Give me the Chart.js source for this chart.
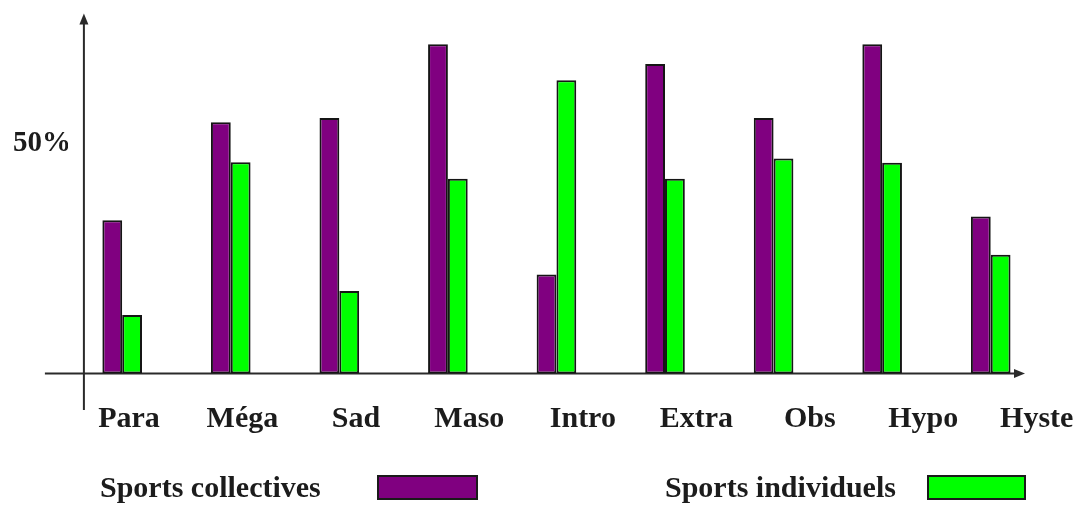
<!DOCTYPE html>
<html lang="fr">
<head>
<meta charset="utf-8">
<title>Sports collectives / Sports individuels</title>
<script src="https://cdn.jsdelivr.net/npm/chart.js@4/dist/chart.umd.min.js"></script>
<style>
  html, body { margin: 0; padding: 0; background: #ffffff; }
  #wrap { width: 1079px; height: 506px; }
</style>
</head>
<body>
<div id="wrap"><canvas id="chart" width="1079" height="506"></canvas></div>
<script>
// Profils de personnalité
const categories = ['Para', 'Méga', 'Sad', 'Maso', 'Intro', 'Extra', 'Obs', 'Hypo', 'Hyste'];

// Pourcentages par profil
const sportsCollectives = [33.3, 54.6, 55.5, 71.5, 21.5, 67.2, 55.5, 71.5, 34.1];
const sportsIndividuels = [12.7, 45.9, 17.9, 42.3, 63.7, 42.3, 46.7, 45.8, 25.8];

// Seule graduation affichée sur l'axe vertical
const yTickValues = [50];

const seriesNames = ['Sports collectives', 'Sports individuels'];
const seriesColors = ['#800080', '#00ff00'];

const FONT_FAMILY = '"Liberation Serif", "Times New Roman", serif';
const TEXT_COLOR = '#1c1c1c';
const AXIS_COLOR = '#2a2a2a';

// Axes fléchés dessinés sous les barres
const arrowAxes = {
  id: 'arrowAxes',
  beforeDatasetsDraw(chart) {
    const { ctx, chartArea } = chart;
    const y0 = chart.scales.y.getPixelForValue(0);
    const xAxis = chartArea.left + 16;
    const xEnd = chartArea.right - 20;
    const yTop = chartArea.top - 1;
    ctx.save();
    ctx.strokeStyle = AXIS_COLOR;
    ctx.fillStyle = AXIS_COLOR;
    ctx.lineWidth = 2;
    // axe horizontal
    ctx.beginPath();
    ctx.moveTo(chartArea.left - 23, y0);
    ctx.lineTo(xEnd - 6, y0);
    ctx.stroke();
    ctx.beginPath();
    ctx.moveTo(xEnd, y0);
    ctx.lineTo(xEnd - 11, y0 - 4.5);
    ctx.lineTo(xEnd - 11, y0 + 4.5);
    ctx.closePath();
    ctx.fill();
    // axe vertical
    ctx.beginPath();
    ctx.moveTo(xAxis, y0 + 36.5);
    ctx.lineTo(xAxis, yTop + 6);
    ctx.stroke();
    ctx.beginPath();
    ctx.moveTo(xAxis, yTop);
    ctx.lineTo(xAxis - 4.5, yTop + 11);
    ctx.lineTo(xAxis + 4.5, yTop + 11);
    ctx.closePath();
    ctx.fill();
    ctx.restore();
  }
};

// Légende : libellé suivi d'un rectangle de couleur
const textThenBoxLegend = {
  id: 'textThenBoxLegend',
  afterDraw(chart) {
    const { ctx } = chart;
    const items = [
      { textX: 100, boxX: 378, boxW: 99 },
      { textX: 665, boxX: 928, boxW: 97 }
    ];
    ctx.save();
    ctx.font = 'bold 30px ' + FONT_FAMILY;
    ctx.textBaseline = 'alphabetic';
    ctx.textAlign = 'left';
    chart.data.datasets.forEach((ds, i) => {
      const it = items[i];
      ctx.fillStyle = TEXT_COLOR;
      ctx.fillText(ds.label, it.textX, 497);
      ctx.fillStyle = ds.backgroundColor;
      ctx.fillRect(it.boxX, 476, it.boxW, 23);
      ctx.strokeStyle = '#1a1a1a';
      ctx.lineWidth = 2;
      ctx.strokeRect(it.boxX, 476, it.boxW, 23);
    });
    ctx.restore();
  }
};

const chart = new Chart(document.getElementById('chart'), {
  type: 'bar',
  data: {
    labels: categories,
    datasets: [
      {
        label: seriesNames[0],
        data: sportsCollectives,
        backgroundColor: seriesColors[0],
        borderColor: '#151515',
        borderWidth: 2,
        borderSkipped: false,
        xAxisID: 'x'
      },
      {
        label: seriesNames[1],
        data: sportsIndividuels,
        backgroundColor: seriesColors[1],
        borderColor: '#151515',
        borderWidth: 2,
        borderSkipped: false,
        xAxisID: 'x'
      }
    ]
  },
  options: {
    responsive: false,
    animation: false,
    devicePixelRatio: 1,
    categoryPercentage: 0.365,
    barPercentage: 1.0,
    layout: { padding: { left: 9, right: 34, top: 14, bottom: 67.7 } },
    plugins: {
      legend: { display: false },
      tooltip: { enabled: false },
      title: { display: false }
    },
    scales: {
      x: {
        type: 'category',
        display: false,
        offset: true
      },
      xLabels: {
        type: 'linear',
        position: 'bottom',
        offset: false,
        min: -0.538,
        max: 8.073,
        grid: { display: false, drawTicks: true, tickLength: 28, offset: false },
        border: { display: false },
        afterBuildTicks(axis) {
          axis.ticks = categories.map((_, i) => ({ value: i }));
        },
        afterFit(axis) { axis.height = 64.8; },
        ticks: {
          autoSkip: false,
          maxRotation: 0,
          padding: 0,
          color: TEXT_COLOR,
          font: { family: FONT_FAMILY, size: 30, weight: 'bold' },
          callback: (v) => categories[v]
        }
      },
      y: {
        min: 0,
        max: 78,
        grid: { display: false, drawTicks: false },
        border: { display: false },
        afterBuildTicks(axis) {
          axis.ticks = yTickValues.map(v => ({ value: v }));
        },
        afterFit(axis) { axis.width = 58.9; },
        ticks: {
          padding: -3,
          color: TEXT_COLOR,
          font: { family: FONT_FAMILY, size: 29, weight: 'bold' },
          callback: (v) => v + '%'
        }
      }
    }
  },
  plugins: [arrowAxes, textThenBoxLegend]
});
</script>
</body>
</html>
